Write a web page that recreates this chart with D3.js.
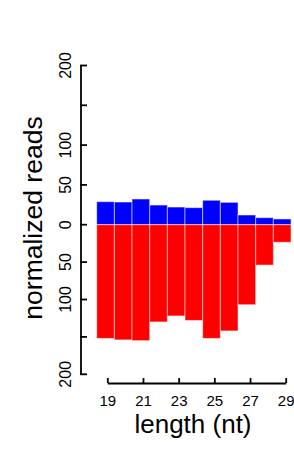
<!DOCTYPE html>
<html lang="en">
<head>
<meta charset="UTF-8">
<script src="https://cdn.jsdelivr.net/npm/d3@7"></script>
<style>
body { margin: 0; background: #fff; }
svg text { font-family: "Liberation Sans", Arial, sans-serif; fill: #000; }
.axis path, .axis line { stroke: #000; stroke-width: 1.8; }
.xaxis text { font-size: 15px; }
</style>
</head>
<body>
<svg id="chart" width="294" height="449"></svg>
<script>
// read lengths (nt) and normalized reads per strand
const lengths = [19, 20, 21, 22, 23, 24, 25, 26, 27, 28, 29];
const senseReads = [28.9, 28.5, 32.3, 24.7, 22.2, 21.4, 30.7, 28.1, 12.2, 8.8, 7.2];
const antisenseReads = [152, 154, 155, 130, 122, 128, 152, 142, 107, 54, 23.5];
const yTicks = [0, 50, 100, 150, 200];
const yTickLabels = ['0', '50', '100', '', '200'];
const xTicks = [19, 21, 23, 25, 27, 29];

const svg = d3.select('#chart');

let x = d3.scaleBand().domain(lengths).range([96.7, 291]).padding(0);
let xAxisScale = d3.scaleLinear().domain([19, 29]).range([107.3, 285.7]);
let yUp = d3.scaleLinear().domain([0, 200]).range([224.7, 65.5]);
let yDown = d3.scaleLinear().domain([0, 200]).range([224.7, 374.3]);

// bars above zero
svg.selectAll('.up')
    .data(lengths)
    .enter().append('rect')
    .attr('class', 'up')
    .attr('x', d => x(d))
    .attr('y', (d, i) => yUp(senseReads[i]))
    .attr('width', x.bandwidth())
    .attr('height', (d, i) => yUp(0) - yUp(senseReads[i]))
    .attr('fill', '#0000ff')
    .attr('stroke', 'rgba(255,255,255,0.5)')
    .attr('stroke-width', 1);

// bars below zero
svg.selectAll('.down')
    .data(lengths)
    .enter().append('rect')
    .attr('class', 'down')
    .attr('x', d => x(d))
    .attr('y', yDown(0))
    .attr('width', x.bandwidth())
    .attr('height', (d, i) => yDown(antisenseReads[i]) - yDown(0))
    .attr('fill', '#ff0000')
    .attr('stroke', 'rgba(255,255,255,0.5)')
    .attr('stroke-width', 1);

// y axis (two halves, ticks pointing inward)
let yAxisG = svg.append('g').attr('class', 'axis');
yAxisG.append('line')
    .attr('x1', 81).attr('x2', 81)
    .attr('y1', yUp(200)).attr('y2', yDown(200));
let allY = yTicks.map((t, i) => ({ pos: yUp(t), label: yTickLabels[i] }))
    .concat(yTicks.slice(1).map((t, i) => ({ pos: yDown(t), label: yTickLabels[i + 1] })));
yAxisG.selectAll('.ytick')
    .data(allY)
    .enter().append('line')
    .attr('x1', 80.1).attr('x2', 87)
    .attr('y1', d => d.pos).attr('y2', d => d.pos);
svg.selectAll('.ylab')
    .data(allY.filter(d => d.label !== ''))
    .enter().append('text')
    .attr('transform', d => 'translate(70.5,' + d.pos + ') rotate(-90)')
    .attr('text-anchor', 'middle')
    .attr('font-size', 16)
    .text(d => d.label);

// x axis
let xAxis = d3.axisBottom(xAxisScale).tickValues(xTicks).tickSize(-5).tickPadding(12).tickSizeOuter(0);
let xg = svg.append('g')
    .attr('class', 'axis xaxis')
    .attr('transform', 'translate(0,383)')
    .call(xAxis);
xg.attr('font-size', null).attr('font-family', null);

// axis titles
svg.append('text')
    .attr('x', 193).attr('y', 433)
    .attr('text-anchor', 'middle')
    .attr('font-size', 26)
    .text('length (nt)');
svg.append('text')
    .attr('transform', 'translate(41.5,218) rotate(-90)')
    .attr('text-anchor', 'middle')
    .attr('font-size', 26.5)
    .text('normalized reads');
</script>
</body>
</html>
